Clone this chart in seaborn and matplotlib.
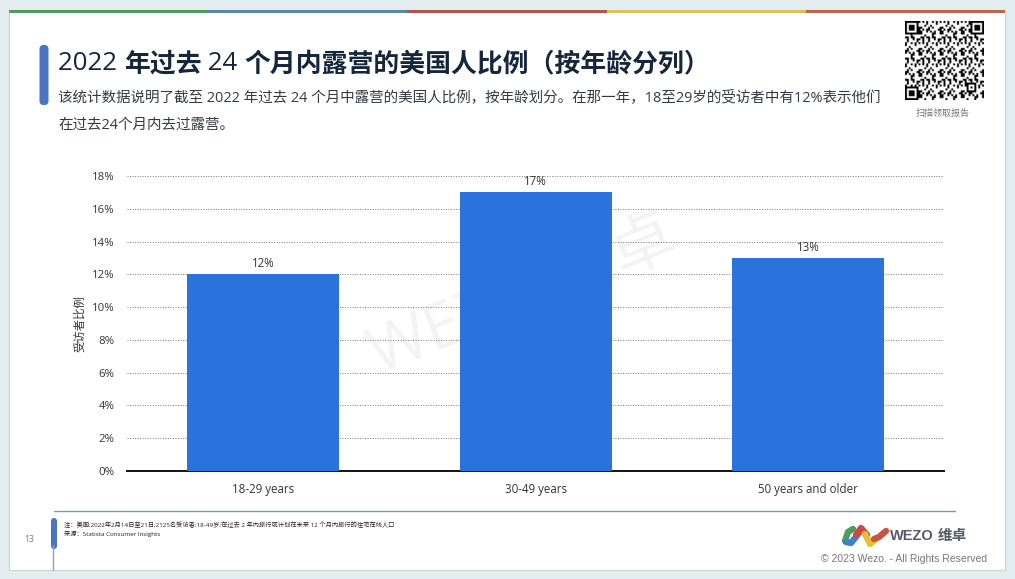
import numpy as np
import pandas as pd
import matplotlib
matplotlib.use("Agg")
import matplotlib.pyplot as plt
from matplotlib.patches import FancyBboxPatch, Rectangle
import seaborn as sns

age_groups = ["18-29 years", "30-49 years", "50 years and older"]
shares = [12, 17, 13]
y_ticks = [0, 2, 4, 6, 8, 10, 12, 14, 16, 18]

title_parts = [("2022 ", "normal"), ("年过去", "bold"), (" 24 ", "normal"), ("个月内露营的美国人比例（按年龄分列）", "bold")]
sub_line1 = "该统计数据说明了截至 2022 年过去 24 个月中露营的美国人比例，按年龄划分。在那一年，18至29岁的受访者中有12%表示他们"
sub_line2 = "在过去24个月内去过露营。"
note_line1 = "注：美国;2022年2月14日至21日;2125名受访者;18-49岁;在过去 2 年内旅行或计划在未来 12 个月内旅行的住宅在线人口"
note_line2 = "来源：Statista Consumer Insights"
stripe_colors = ["#4f9a5e", "#5a86ad", "#b5534c", "#dcc05a", "#b9674a"]

W, H = 1015, 579
FONTS = ["Open Sans", "Noto Sans CJK SC", "DejaVu Sans"]

sns.set_theme(style="white")
plt.rcParams["font.family"] = FONTS


def draw_slide(bg):
    bg.set_xlim(0, W)
    bg.set_ylim(H, 0)
    bg.axis("off")
    bg.add_patch(Rectangle((9, 11), 996, 559, fc="white", ec="#c9d2d6", lw=0.8))
    for i, c in enumerate(stripe_colors):
        bg.add_patch(Rectangle((9 + i * 199.2, 10), 199.2, 3, fc=c, ec="none"))
    # header marker and footer
    bg.add_patch(FancyBboxPatch((39.5, 45), 9, 60, boxstyle="round,pad=0,rounding_size=4",
                                fc="#4b74c4", ec="none"))
    bg.plot([54, 955], [510.5, 510.5], color="#7d96b5", lw=1)
    bg.plot([53.5, 53.5], [545, 570], color="#8fa3b5", lw=1)
    bg.add_patch(FancyBboxPatch((51, 518), 6, 31, boxstyle="round,pad=0,rounding_size=3",
                                fc="#4b74c4", ec="none"))
    # watermark sits behind the chart
    bg.text(523, 298, "WEZO 维卓", fontsize=46, color="#000000", alpha=0.05, rotation=22,
            ha="center", va="center")


def draw_title(fig, bg):
    x = 58
    renderer = fig.canvas.get_renderer()
    for part, weight in title_parts:
        t = bg.text(x, 64, part, fontsize=18.6, fontweight=weight, color="#16263b", va="center")
        t.set_text(part.replace(" ", "\u00a0"))
        x += t.get_window_extent(renderer).width


def draw_texts(bg):
    bg.text(58, 98, sub_line1, fontsize=10.48, color="#333a42", va="center")
    bg.text(58, 125, sub_line2, fontsize=10.48, color="#333a42", va="center")
    bg.text(64, 525, note_line1, fontsize=4.5, color="#222222", va="center")
    bg.text(64, 534, note_line2, fontsize=4.5, color="#222222", va="center")
    bg.text(29, 540, "13", fontsize=6.2, color="#777777", ha="center", va="center")
    bg.text(943, 113.5, "扫描领取报告", fontsize=6.5, color="#777777", ha="center", va="center")
    bg.text(987, 559.5, "© 2023 Wezo. - All Rights Reserved", fontsize=7.45, color="#777777",
            ha="right", va="center", family=["Liberation Sans"])
    bg.text(890, 536, "WEZO", fontsize=10.5, fontweight="bold", color="#555a66", va="center",
            family=["Liberation Sans"])
    bg.text(938, 536, "维卓", fontsize=10.5, fontweight="bold", color="#555a66", va="center")


def draw_logo(bg):
    # four overlapping strokes
    strokes = [("#4f9a5e", [845, 848, 853], [541, 532, 529]),
               ("#3f7fd0", [846, 851, 859], [542, 543, 533]),
               ("#d2483f", [856, 861, 867], [535, 528, 535]),
               ("#e9be3a", [865, 870, 876], [534, 544, 539]),
               ("#c9553f", [874, 879, 886], [539, 537, 531])]
    for c, xs, ys in strokes:
        bg.plot(xs, ys, color=c, lw=4.6, solid_capstyle="round")


def draw_qr(fig):
    n = 41
    cells = np.array([[(i * i * j * j + 3 * i + 5 * j + i * j) % 11 < 5 for j in range(n)]
                      for i in range(n)], dtype=float)
    for r, c in [(0, 0), (0, n - 7), (n - 7, 0)]:
        cells[r:r + 7, c:c + 7] = 1
        cells[r + 1:r + 6, c + 1:c + 6] = 0
        cells[r + 2:r + 5, c + 2:c + 5] = 1
    cells[n - 9:n - 4, n - 9:n - 4] = 1
    cells[n - 8:n - 5, n - 8:n - 5] = 0
    cells[n - 7, n - 7] = 1
    qr = fig.add_axes([905 / W, 1 - 100 / H, 79 / W, 79 / H])
    qr.imshow(1 - cells, cmap="gray", vmin=0, vmax=1, interpolation="antialiased", aspect="auto")
    qr.axis("off")


def draw_chart(fig):
    left, right, top, bottom = 127, 944.5, 176, 471
    ax = fig.add_axes([left / W, 1 - bottom / H, (right - left) / W, (bottom - top) / H])
    ax.patch.set_alpha(0)
    df = pd.DataFrame({"age": age_groups, "share": shares})
    sns.barplot(data=df, x="age", y="share", color="#2a72dc", saturation=1, width=0.558,
                linewidth=0, zorder=3, ax=ax)
    ax.set_xlim(-0.5, 2.5)
    ax.set_ylim(0, 18)
    ax.set_yticks(y_ticks)
    ax.set_yticklabels([f"{v}%" for v in y_ticks])
    ax.grid(axis="y", linestyle=(0, (1, 1.6)), color="#777777", linewidth=0.7, zorder=1)
    ax.set_axisbelow(True)
    for s in ["top", "left", "right"]:
        ax.spines[s].set_visible(False)
    ax.spines["bottom"].set_color("#111111")
    ax.spines["bottom"].set_linewidth(1.4)
    ax.tick_params(axis="y", length=0, pad=9, labelsize=8.2, labelcolor="#333333")
    ax.tick_params(axis="x", length=0, pad=9, labelsize=8.3, labelcolor="#333333")
    ax.set_xlabel("")
    ax.set_ylabel("受访者比例", fontsize=8.2, color="#333333")
    ax.yaxis.set_label_coords((86 - left) / (right - left), 0.5)
    ax.bar_label(ax.containers[0], fmt="%g%%", padding=3, fontsize=8.3, color="#333333")


def main():
    fig = plt.figure(figsize=(W / 100, H / 100), dpi=100, facecolor="#e3ecef")
    bg = fig.add_axes([0, 0, 1, 1])
    draw_slide(bg)
    draw_title(fig, bg)
    draw_texts(bg)
    draw_logo(bg)
    draw_chart(fig)
    draw_qr(fig)
    fig.savefig("out.png", dpi=100, facecolor=fig.get_facecolor())


if __name__ == "__main__":
    main()
